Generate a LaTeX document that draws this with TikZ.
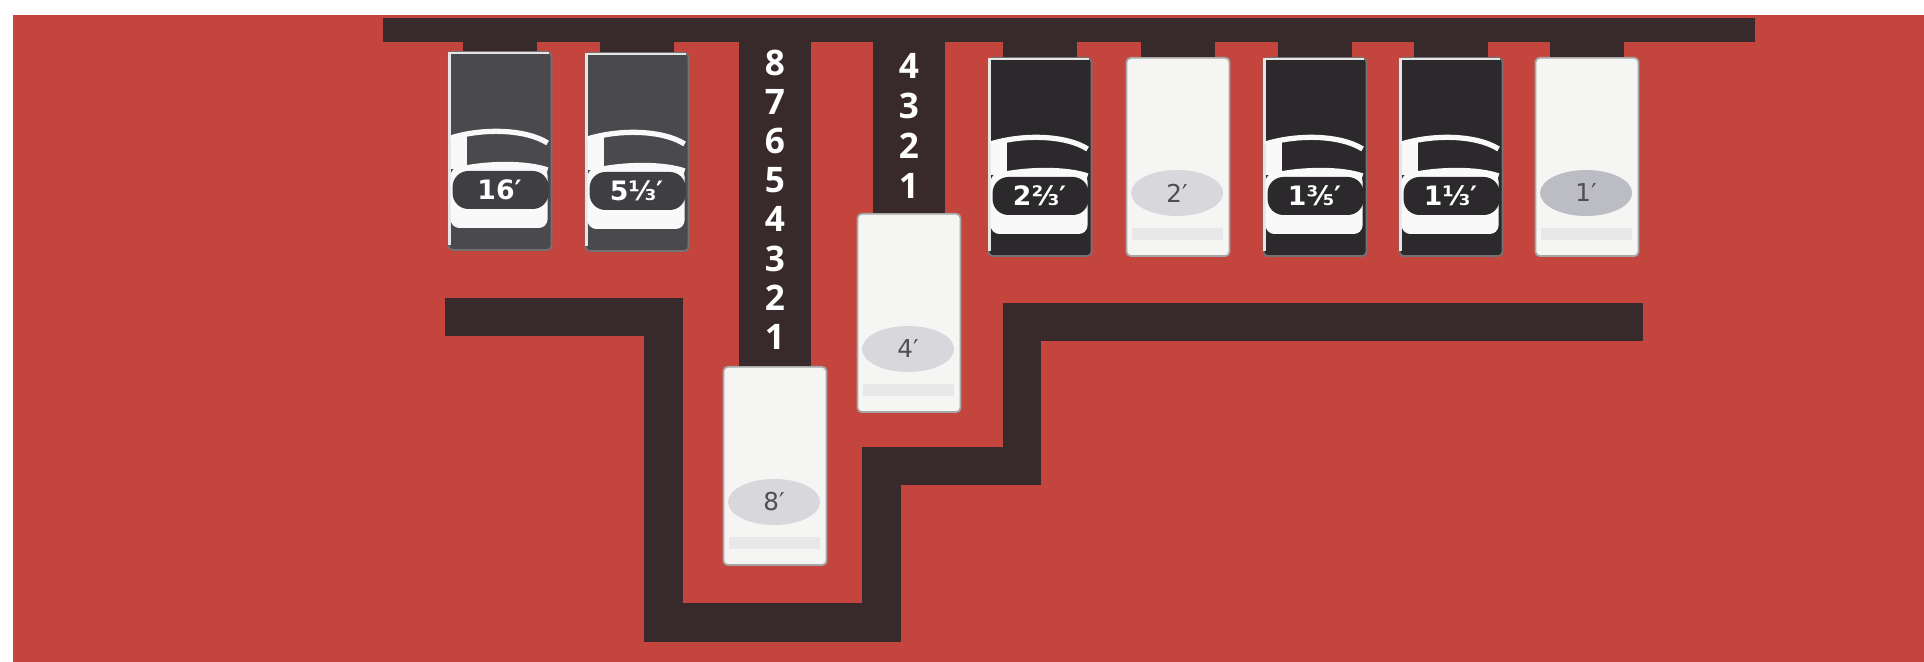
\documentclass[tikz,border=0pt]{standalone}
\usepackage{fontspec}
\setmainfont{Open Sans}
\newfontfamily\tabfont{DejaVu Sans}
\usetikzlibrary{shapes.geometric, positioning, calc}

\definecolor{panelred}{HTML}{C4453E}
\definecolor{barblack}{HTML}{382A2A}
\definecolor{tabgray}{HTML}{4A494E}
\definecolor{tabblack}{HTML}{2B292B}
\definecolor{tabwhite}{HTML}{F5F5F4}
\definecolor{ovalgray}{HTML}{D8D8DC}
\definecolor{ovaldark}{HTML}{BCBCC4}
\definecolor{textgray}{HTML}{4E4E53}

\tikzset{
  tab/.style={rectangle, draw=black!55, line width=0.5pt, rounded corners=1.2pt,
              minimum width=1.03cm, minimum height=1.98cm, inner sep=0pt, anchor=north},
  darktab/.style={tab, fill=tabgray},
  blacktab/.style={tab, fill=tabblack},
  whitetab/.style={tab, fill=tabwhite, draw=black!35},
  bus/.style={rectangle, fill=barblack, inner sep=0pt, anchor=north west},
  stub/.style={barblack, line width=0.73cm},
  colbar/.style={barblack, line width=0.72cm},
  track/.style={barblack, line width=0.38cm, line join=miter},
  digit/.style={text=white, font=\bfseries\fontsize{10}{10}\selectfont, inner sep=0pt},
  pill/.style={text=white, font=\tabfont\bfseries\fontsize{7.6}{8}\selectfont, inner sep=0pt},
  oval/.style={ellipse, minimum width=0.92cm, minimum height=0.46cm, inner sep=0pt,
               text=textgray, font=\tabfont\fontsize{7}{7}\selectfont},
  hilite/.style={white!80!gray, line width=0.8pt},
  rim/.style={white!95!gray, line width=1.5pt},
}

% face of a dark stop tab: name, pill colour, label
\newcommand\darkface[3]{%
  \begin{scope}[shift={(#1.north west)}]
    \draw[hilite] (2,194) -- (2,2) -- (101,2);
    \fill[white!95!gray] (3,85) rectangle (19,118);
    \fill[white!95!gray, rounded corners=2.5pt] (3,116) rectangle (100,177);
    \fill[#2, rounded corners=4.5pt] (5,120) rectangle (101,158);
    \draw[rim] (3,87) .. controls (35,77) and (78,78) .. (100,92);
    \draw[rim] (18,117) .. controls (45,112) and (80,112) .. (100,119);
    \node[pill] (#1-lbl) at (52,139) {#3};
  \end{scope}}

% face of a white stop tab: [oval colour], name, label
\newcommand\whiteface[3][ovalgray]{%
  \begin{scope}[shift={(#2.north west)}]
    \fill[black!9] (6,171) rectangle (97,183);
    \node[oval, fill=#1] (#2-lbl) at (51.5,136) {#3};
  \end{scope}}

\begin{document}
\begin{tikzpicture}[x=0.01cm, y=-0.01cm]
  \fill[white] (0,0) rectangle (1924,662);
  \useasboundingbox (0,0) rectangle (1924,662);
  \fill[panelred] (13,15) rectangle (1924,662);

  \node[bus, minimum width=13.71cm, minimum height=0.24cm] (bus) at (382,17) {};
  % stepped line under the tabs
  \draw[track] (445,317) -- (663.5,317) -- (663.5,622.5) -- (881.5,622.5)
    -- (881.5,466.5) -- (1022,466.5) -- (1022,322) -- (1643,322);

  % stop tabs
  \node[darktab]  (t16)  at (500,51)  {};
  \node[darktab]  (t513) at (637,52)  {};
  \node[whitetab] (t8)   at (775,366) {};
  \node[whitetab] (t4)   at (909,213) {};
  \node[blacktab] (t223) at (1040,57) {};
  \node[whitetab] (t2)   at (1178,57) {};
  \node[blacktab] (t135) at (1315,57) {};
  \node[blacktab] (t113) at (1451,57) {};
  \node[whitetab] (t1)   at (1587,57) {};

  \foreach \t in {t16,t513,t223,t2,t135,t113,t1}
    \draw[stub] (\t.north) -- (\t.north |- bus.south);
  \draw[colbar] (t8.north) -- (t8.north |- bus.south);
  \draw[colbar] (t4.north) -- (t4.north |- bus.south);

  \foreach \d in {1,...,8}
    \node[digit] (c8-\d) at ($(t8.north)+(0,{-29-39.2*(\d-1)})$) {\d};
  \foreach \d in {1,...,4}
    \node[digit] (c4-\d) at ($(t4.north)+(0,{-27-40*(\d-1)})$) {\d};

  \darkface{t16}{tabgray!85!black}{16′}
  \darkface{t513}{tabgray!85!black}{5⅓′}
  \darkface{t223}{tabblack}{2⅔′}
  \darkface{t135}{tabblack}{1⅗′}
  \darkface{t113}{tabblack}{1⅓′}
  \whiteface{t8}{8′}
  \whiteface{t4}{4′}
  \whiteface{t2}{2′}
  \whiteface[ovaldark]{t1}{1′}
\end{tikzpicture}
\end{document}
